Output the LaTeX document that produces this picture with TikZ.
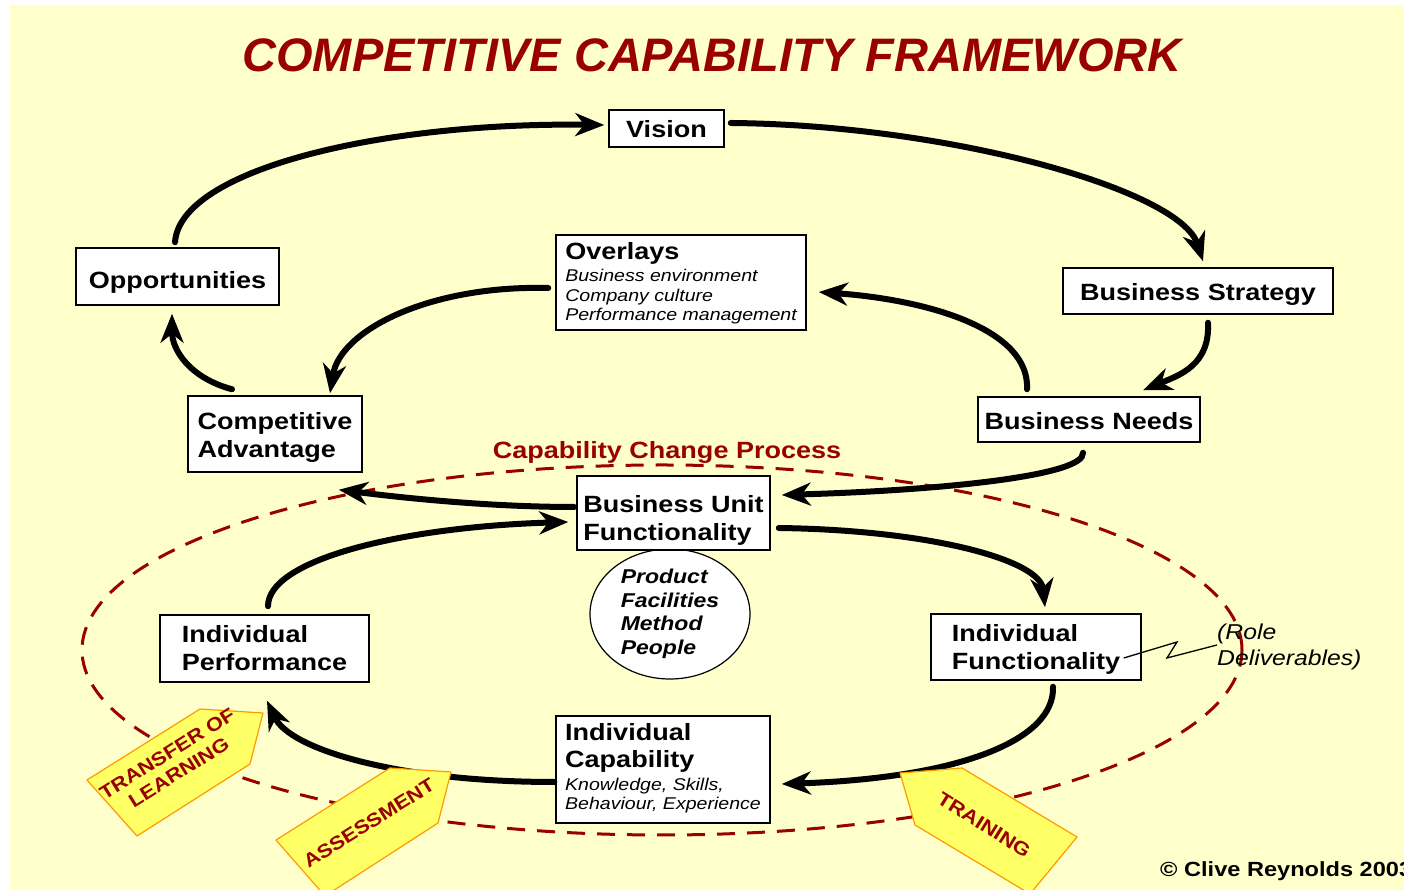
\documentclass[tikz,border=0pt]{standalone}
\usepackage{fontspec}
\setmainfont{Liberation Sans}
\newfontfamily\widesans{Liberation Sans}[FakeStretch=1.15]
\usetikzlibrary{arrows.meta,shapes.geometric}
\definecolor{bgyellow}{HTML}{FFFFCC}
\definecolor{deepred}{HTML}{990000}
\definecolor{tagfill}{HTML}{FFFF66}
\definecolor{tagedge}{HTML}{FF9900}
\newcommand\hdline{\upshape\bfseries\fontsize{23.5}{28}\selectfont}
% lower a line of text inside its box without changing the box size
\newcommand\dn[2]{\raisebox{-#1}[\height][\depth]{#2}}

\begin{document}
\begin{tikzpicture}[x=1pt,y=1pt,
  box/.style={draw=black, line width=1.5pt, fill=white, inner sep=0pt, align=left,
    font=\widesans\bfseries\fontsize{23.5}{28}\selectfont},
  subbox/.style={box, font=\widesans\itshape\fontsize{17}{19.5}\selectfont},
  flow/.style={line width=6pt, line cap=round, -{Stealth[length=29pt,width=23pt,inset=9pt]}},
  tag/.style={fill=tagfill, draw=tagedge, line width=1.2pt, line join=round},
  tagtext/.style={text=deepred, font=\widesans\bfseries\fontsize{19}{22}\selectfont, align=center, inner sep=0pt},
]
% page and background
\fill[white] (0,0) rectangle (1404,890);
\fill[bgyellow] (10,0) rectangle (1404,885);
\useasboundingbox (0,0) rectangle (1404,890);

% title
\node[text=deepred, font=\bfseries\itshape\fontsize{47}{50}\selectfont] (title) at (712,835) {COMPETITIVE CAPABILITY FRAMEWORK};

% capability change process loop
\draw[deepred, line width=3pt, dash pattern=on 18pt off 12pt] (662,240) ellipse [x radius=580pt, y radius=185pt];
\node[text=deepred, font=\widesans\bfseries\fontsize{23.5}{28}\selectfont] (ccp) at (667,438) {Capability Change Process};

% boxes
\node[box, minimum width=115pt, minimum height=37pt] (vision) at (666.5,761.5) {\dn{1pt}{Vision}};
\node[box, minimum width=203pt, minimum height=57pt] (opp) at (177.5,613.5) {\dn{6pt}{Opportunities}};
\node[subbox, minimum width=250pt, minimum height=95pt] (overlays) at (681,607.5)
  {{\hdline\dn{2pt}{Overlays}}\\[4.5pt]Business environment\\Company culture\\Performance management};
\node[box, minimum width=270pt, minimum height=46pt] (bstrat) at (1198,599) {\dn{3.5pt}{Business Strategy}};
\node[box, minimum width=174pt, minimum height=76pt] (compadv) at (275,456)
  {\dn{3pt}{Competitive}\\\dn{3pt}{Advantage}};
\node[box, minimum width=222pt, minimum height=45pt] (bneeds) at (1089,470.5) {\dn{2pt}{Business Needs}};
\node[ellipse, draw=black, line width=1.2pt, fill=white, minimum width=160pt, minimum height=130pt,
  inner sep=0pt, align=left, font=\widesans\bfseries\itshape\fontsize{20}{23.5}\selectfont]
  (pfmp) at (670,276) {Product\\Facilities\\Method\\People};
\node[box, minimum width=193pt, minimum height=74pt] (buf) at (673.5,377)
  {\dn{7pt}{Business Unit}\\\dn{7pt}{Functionality}};
\node[box, minimum width=209pt, minimum height=67pt] (indperf) at (264.5,241.5) {Individual\\Performance};
\node[box, minimum width=210pt, minimum height=66pt] (indfunc) at (1036,243)
  {\dn{2.5pt}{Individual}\\\dn{2.5pt}{Functionality}};
\node[subbox, minimum width=214pt, minimum height=107pt] (indcap) at (663,120.5)
  {{\hdline Individual}\\[7.5pt]{\hdline Capability}\\[4.5pt]\dn{-1.5pt}{Knowledge, Skills,}\\\dn{-1.5pt}{Behaviour, Experience}};

% role deliverables note
\node[anchor=west, align=left, inner sep=0pt, font=\widesans\itshape\fontsize{21.5}{26}\selectfont]
  (role) at (1217,245) {\dn{2pt}{(Role}\\\dn{2pt}{Deliverables)}};
\draw[line width=1.3pt] ([shift={(-18,-11)}]indfunc.east) -- (1177,248) -- (1167,232) -- (role.west);

% outer cycle
\draw[flow] ([shift={(-2.5,5)}]opp.north) .. controls (180,720) and (380,768) .. ([shift={(-4,3.5)}]vision.west);
\draw[flow] ([shift={(6,5.5)}]vision.east) .. controls (950,765) and (1180,700) .. ([shift={(5,6)}]bstrat.north);
\draw[flow] ([shift={(10,-8)}]bstrat.south) .. controls (1210,525) and (1180,515) .. ([shift={(54,6)}]bneeds.north);
\draw[flow] ([shift={(-62,7)}]bneeds.north) .. controls (1030,560) and (930,590) .. ([shift={(12,-9.5)}]overlays.east);
\draw[flow] ([shift={(-7,-5.5)}]overlays.west) .. controls (430,605) and (340,560) .. ([shift={(55,2)}]compadv.north);
\draw[flow] ([shift={(-43,6)}]compadv.north) .. controls (190,512) and (172,540) .. ([shift={(-5.5,-8)}]opp.south);
\draw[flow] ([shift={(-6,-10)}]bneeds.south) .. controls (1085,415) and (950,400) .. ([shift={(11,18)}]buf.east);
\draw[flow] ([shift={(-2,6)}]buf.west) .. controls (500,383) and (420,390) .. ([shift={(-24,-17)}]compadv.south east);

% inner cycle
\draw[flow] ([shift={(8,-15)}]buf.east) .. controls (930,360) and (1040,330) .. ([shift={(9,6)}]indfunc.north);
\draw[flow] ([shift={(17,-6)}]indfunc.south) .. controls (1055,150) and (960,112) .. ([shift={(11,-14.5)}]indcap.east);
\draw[flow] ([shift={(-1,-12.5)}]indcap.west) .. controls (400,108) and (290,140) .. ([shift={(2.5,-18)}]indperf.south);
\draw[flow] ([shift={(3.5,8)}]indperf.north) .. controls (268,330) and (400,363) .. ([shift={(-8,-9)}]buf.west);

% process tags
\draw[tag] (87,110) -- (200,181) -- (263,177) -- (250,126) -- (137,54) -- cycle;
\node[tagtext, rotate=32] (tol) at (173,127) {TRANSFER OF\\LEARNING};
\draw[tag] (276,50) -- (390,122) -- (451,118) -- (438,67) -- (325,-6) -- cycle;
\node[tagtext, rotate=32] (assess) at (369,67) {ASSESSMENT};
\draw[tag] (900,117) -- (962,122) -- (1077,53) -- (1030,-4) -- (915,65) -- cycle;
\node[tagtext, rotate=-32] (train) at (984,65) {TRAINING};

% credit
\node[anchor=base west, inner sep=0pt, font=\widesans\bfseries\fontsize{20.5}{25}\selectfont] (credit) at (1160,13) {© Clive Reynolds 2003};
\end{tikzpicture}
\end{document}
